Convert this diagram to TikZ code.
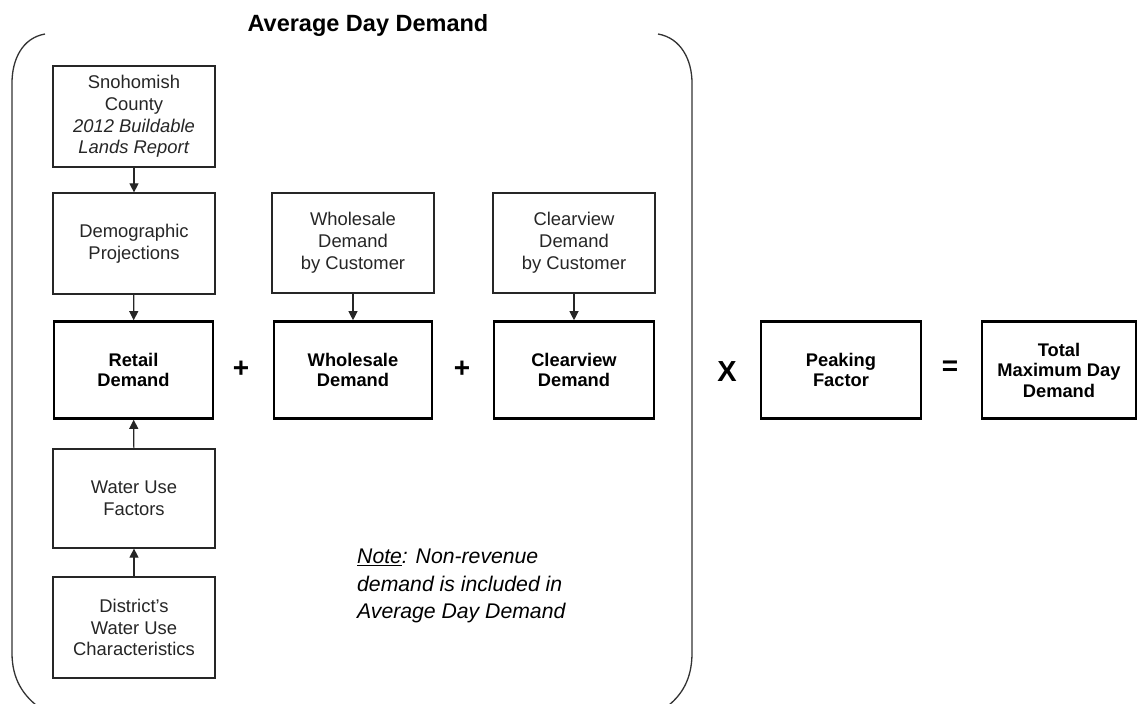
\documentclass[tikz,border=0pt]{standalone}
\usepackage{fontspec}
\setmainfont{Liberation Sans}
\usetikzlibrary{arrows.meta}
\tikzset{
  thinbox/.style={draw=black!85, line width=1.2pt, rectangle, inner sep=0pt, align=center,
    minimum width=162pt, minimum height=100pt, font=\fontsize{18.4}{21.8}\selectfont, text=black!85},
  thickbox/.style={draw=black, line width=2.6pt, rectangle, inner sep=0pt, align=center,
    minimum width=159pt, minimum height=97pt, font=\bfseries\fontsize{18.3}{20.5}\selectfont},
  flow/.style={draw=black!85, line width=1.1pt, -{Triangle[width=9pt,length=9pt]}},
  opsym/.style={font=\bfseries\fontsize{28}{28}\selectfont, inner sep=0pt},
  brace/.style={draw=black!80, line width=1.3pt}
}
\begin{document}
\begin{tikzpicture}[x=1pt,y=-1pt]
\useasboundingbox (0,0) rectangle (1138,704);
\fill[white] (0,0) rectangle (1138,704);
% title
\node[font=\bfseries\fontsize{23.5}{26}\selectfont, inner sep=0pt] (title) at (368,25) {Average Day Demand};
% bracket
\draw[brace] (45,34) .. controls (22,38) and (12,60) .. (12,83) -- (12,653) .. controls (12,680) and (24,695) .. (36,705);
\draw[brace] (658,34) .. controls (681,38) and (692,60) .. (692,83) -- (692,653) .. controls (692,680) and (681,695) .. (669,705);
% left column
\node[thinbox, minimum height=101pt] (sno) at (134,116.5) {Snohomish\\County\\\textit{2012 Buildable}\\\textit{Lands Report}};
\node[thinbox, minimum height=101pt] (demo) at (134,243.5) {Demographic\\Projections};
\node[thickbox] (retail) at (133.5,370) {Retail\\Demand};
\node[thinbox, minimum height=99pt] (wuf) at (134,498.5) {Water Use\\Factors};
\node[thinbox, minimum height=101pt] (dist) at (134,627.5) {District's\\Water Use\\Characteristics};
% middle columns
\node[thinbox] (wbc) at (353,243) {Wholesale\\Demand\\by Customer};
\node[thickbox, minimum width=158pt] (whole) at (353,370) {Wholesale\\Demand};
\node[thinbox] (cbc) at (574,243) {Clearview\\Demand\\by Customer};
\node[thickbox, minimum width=160pt] (clear) at (574,370) {Clearview\\Demand};
% right
\node[thickbox, minimum width=160pt] (peak) at (841,370) {Peaking\\Factor};
\node[thickbox, minimum width=154pt] (total) at (1059,370) {Total\\Maximum Day\\Demand};
% operators
\node[opsym] (p1) at (241,369) {+};
\node[opsym] (p2) at (462,369) {+};
\node[font=\bfseries\fontsize{29}{29}\selectfont, inner sep=0pt] (times) at (727,372) {X};
\node[opsym] (eq) at (950,368) {=};
% arrows
\draw[flow] (sno) -- (demo);
\draw[flow] (demo) -- (retail);
\draw[flow] (wuf) -- (retail);
\draw[flow] (dist) -- (wuf);
\draw[flow] (wbc) -- (whole);
\draw[flow] (cbc) -- (clear);
% note
\node[anchor=north west, align=left, inner sep=0pt, font=\itshape\fontsize{21.2}{27.5}\selectfont] (note) at (357,549)
  {\underline{Note}: Non-revenue\\demand is included in\\Average Day Demand};
\end{tikzpicture}
\end{document}
